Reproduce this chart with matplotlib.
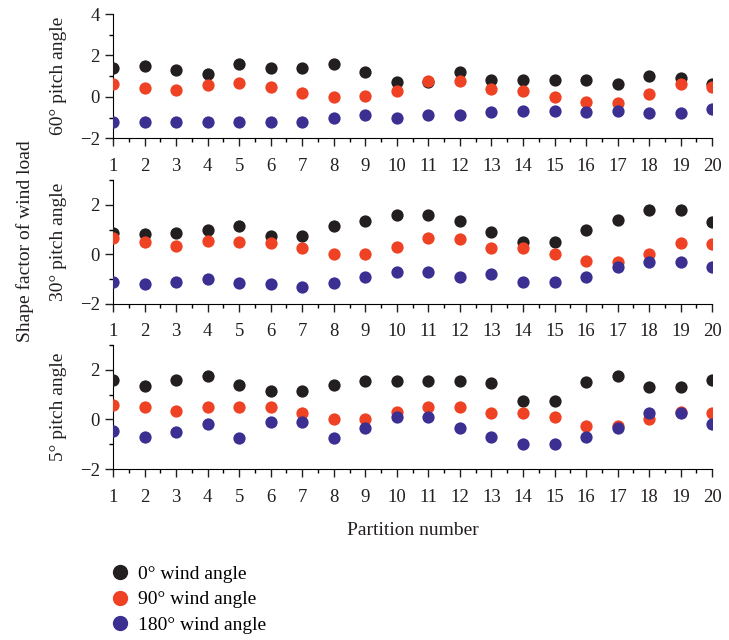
import matplotlib.pyplot as plt
from matplotlib.ticker import MultipleLocator
from matplotlib.lines import Line2D

plt.rcParams['font.family'] = ['Liberation Serif', 'DejaVu Serif']

partition = list(range(1, 21))

# 60° pitch angle
p60_w0 = [1.4, 1.5, 1.3, 1.1, 1.6, 1.4, 1.4, 1.6, 1.2, 0.7, 0.7, 1.2, 0.8, 0.8, 0.8, 0.8, 0.6, 1.0, 0.9, 0.6]
p60_w90 = [0.6, 0.45, 0.35, 0.55, 0.65, 0.5, 0.2, 0.0, 0.05, 0.3, 0.75, 0.75, 0.4, 0.3, 0.0, -0.25, -0.3, 0.15, 0.6, 0.5]
p60_w180 = [-1.2, -1.2, -1.2, -1.2, -1.2, -1.2, -1.2, -1.0, -0.9, -1.0, -0.9, -0.9, -0.75, -0.7, -0.7, -0.75, -0.7, -0.8, -0.8, -0.6]

# 30° pitch angle
p30_w0 = [0.85, 0.8, 0.85, 1.0, 1.15, 0.75, 0.75, 1.15, 1.35, 1.6, 1.6, 1.35, 0.9, 0.5, 0.5, 1.0, 1.4, 1.8, 1.8, 1.3]
p30_w90 = [0.65, 0.5, 0.35, 0.55, 0.5, 0.45, 0.25, 0.0, 0.0, 0.3, 0.65, 0.6, 0.25, 0.25, 0.0, -0.25, -0.3, 0.0, 0.45, 0.4]
p30_w180 = [-1.1, -1.2, -1.1, -1.0, -1.15, -1.2, -1.3, -1.15, -0.9, -0.7, -0.7, -0.9, -0.8, -1.1, -1.1, -0.9, -0.5, -0.3, -0.3, -0.5]

# 5° pitch angle
p5_w0 = [1.6, 1.35, 1.6, 1.75, 1.4, 1.15, 1.15, 1.4, 1.55, 1.55, 1.55, 1.55, 1.45, 0.75, 0.75, 1.5, 1.75, 1.3, 1.3, 1.6]
p5_w90 = [0.6, 0.5, 0.35, 0.5, 0.5, 0.5, 0.25, 0.0, 0.0, 0.3, 0.5, 0.5, 0.25, 0.25, 0.1, -0.25, -0.25, 0.0, 0.3, 0.25]
p5_w180 = [-0.45, -0.7, -0.5, -0.2, -0.75, -0.1, -0.1, -0.75, -0.35, 0.1, 0.1, -0.35, -0.7, -1.0, -1.0, -0.7, -0.35, 0.25, 0.25, -0.2]

panel_labels = ['60° pitch angle', '30° pitch angle', '5° pitch angle']
series_labels = ['0° wind angle', '90° wind angle', '180° wind angle']
colors = ['#231f20', '#ef4123', '#3b2f92']

panels = [
    (p60_w0, p60_w90, p60_w180),
    (p30_w0, p30_w90, p30_w180),
    (p5_w0, p5_w90, p5_w180),
]
ylims = [(-2, 4), (-2, 3), (-2, 3)]
bottoms = [0.784, 0.525, 0.267]

fig = plt.figure(figsize=(7.29, 6.4), dpi=100)
for i, (series, ylim, b) in enumerate(zip(panels, ylims, bottoms)):
    ax = fig.add_axes([0.155, b, 0.822, 0.194])
    for vals, c in zip(series, colors):
        ax.scatter(partition, vals, s=78, color=c, linewidths=0, zorder=3)
    ax.set_xlim(1, 20)
    ax.set_ylim(*ylim)
    ax.xaxis.set_major_locator(MultipleLocator(1))
    ax.xaxis.set_minor_locator(MultipleLocator(0.5))
    ax.yaxis.set_major_locator(MultipleLocator(2))
    ax.yaxis.set_minor_locator(MultipleLocator(1))
    ax.tick_params(which='major', length=6, width=1, labelsize=13.5, colors='#231f20')
    ax.tick_params(which='minor', length=3, width=1)
    ax.tick_params(axis='x', pad=8)
    ax.set_yticks([t for t in [-2, 0, 2, 4] if t <= ylim[1]])
    for s in ['top', 'right']:
        ax.spines[s].set_visible(False)
    ax.set_ylabel(panel_labels[i], fontsize=14, labelpad=9, color='#231f20')
    if i == 2:
        ax.set_xlabel('Partition number', fontsize=14, labelpad=12, color='#231f20')

fig.text(0.034, 0.623, 'Shape factor of wind load', rotation=90, fontsize=14,
         ha='center', va='center', color='#231f20')

handles = [Line2D([], [], marker='o', linestyle='', color=c, markersize=10)
           for c in colors]
fig.legend(handles, series_labels, loc='upper left', bbox_to_anchor=(0.125, 0.144),
           frameon=False, fontsize=14, handletextpad=0.3, labelspacing=0.4,
           handlelength=1.2)

fig.savefig('out.png', dpi=100)
